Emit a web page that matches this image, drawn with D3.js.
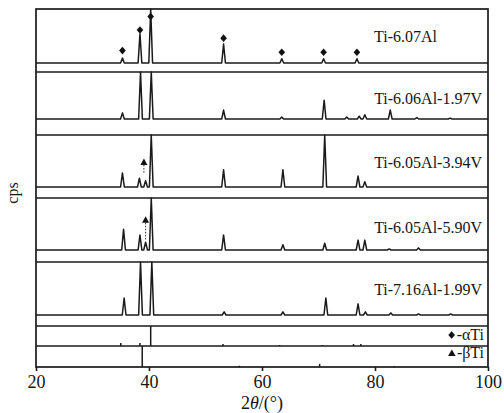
<!DOCTYPE html>
<html>
<head>
<meta charset="utf-8">
<script src="https://cdn.jsdelivr.net/npm/d3@7/dist/d3.min.js"></script>
<style>
  body { margin: 0; background: #fff; }
  text { font-family: "Liberation Serif", "DejaVu Serif", serif; fill: #151515; }
</style>
</head>
<body>
<div id="chart"></div>
<script>
// tick labels
const xTicks = [20, 40, 60, 80, 100];

// sample names (top to bottom)
const sampleNames = ["Ti-6.07Al", "Ti-6.06Al-1.97V", "Ti-6.05Al-3.94V", "Ti-6.05Al-5.90V", "Ti-7.16Al-1.99V"];

// peaks: [2theta, relative intensity, 100 = panel top]
const peaks1 = [[35.3, 9], [38.4, 54], [40.3, 105], [53.2, 35], [63.5, 8], [70.9, 8], [76.8, 8]];
const peaks2 = [[35.3, 13], [38.5, 105], [40.4, 105], [53.2, 19], [63.5, 4], [71.0, 40], [75.0, 4], [77.2, 6], [78.2, 9], [82.7, 19], [87.4, 3], [93.3, 2]];
const peaks3 = [[35.3, 27], [38.3, 17], [39.4, 12], [40.4, 105], [53.2, 33], [63.7, 33], [71.1, 105], [77.0, 21], [78.2, 10]];
const peaks4 = [[35.5, 40], [38.4, 29], [39.4, 15], [40.4, 105], [53.2, 29], [63.7, 10], [71.1, 13], [77.0, 19], [78.2, 19], [82.5, 2], [87.7, 4]];
const peaks5 = [[35.6, 32], [38.5, 105], [40.5, 105], [53.3, 6], [63.7, 6], [71.3, 32], [77.0, 21], [78.3, 6], [82.8, 4], [87.7, 2], [93.4, 2]];

// reference sticks
const alphaTi = [[35.0, 15], [38.4, 15], [40.3, 100], [53.1, 10], [63.1, 5], [70.7, 5], [76.2, 10], [77.5, 10]];
const betaTi = [[38.8, 100], [56.0, 6], [70.2, 15], [83.4, 5]];

// phase markers: [2theta, level] (beta: [2theta, level, line end])
const alphaMarks1 = [[35.3, 23], [38.4, 61], [40.3, 86], [53.2, 46], [63.5, 20], [70.9, 20], [76.8, 20]];
const betaMarks3 = [[39.1, 48, 27]];
const betaMarks4 = [[39.4, 58, 19]];

const patterns = [peaks1, peaks2, peaks3, peaks4, peaks5];

const width = 504, height = 413;
const left = 36, right = 488;
const edges = [9, 72, 135, 198, 262, 326, 346, 367];
const baseGap = [9, 16, 11, 12, 11];

const svg = d3.select("#chart").append("svg")
  .attr("width", width)
  .attr("height", height);

const x = d3.scaleLinear().domain([20, 100]).range([left, right]);

const halfW = 0.33;
const line = d3.line();

patterns.forEach((peaks, i) => {
  const top = edges[i];
  const base = edges[i + 1] - baseGap[i];
  const y = d3.scaleLinear().domain([0, 100]).range([base, top]).clamp(true);

  const pts = [[20, 0]];
  peaks.forEach(p => {
    pts.push([p[0] - halfW, 0], [p[0], p[1]], [p[0] + halfW, 0]);
  });
  pts.push([100, 0]);

  svg.append("path")
    .attr("d", line(pts.map(d => [x(d[0]), y(d[1])])))
    .attr("fill", "none")
    .attr("stroke", "#1a1a1a")
    .attr("stroke-width", 1.5)
    .attr("stroke-linejoin", "round");

  svg.append("text")
    .attr("x", i === 0 ? 374 : 482)
    .attr("y", [42, 104, 168, 233, 295][i])
    .attr("text-anchor", i === 0 ? "start" : "end")
    .attr("font-size", 16)
    .text(sampleNames[i]);

  if (i === 0) {
    svg.selectAll(".dia").data(alphaMarks1).enter().append("path")
      .attr("transform", d => `translate(${x(d[0])},${y(d[1])})`)
      .attr("d", "M0,-3.8L3.3,0L0,3.8L-3.3,0Z")
      .attr("fill", "#111");
  }
  const bm = i === 2 ? betaMarks3 : i === 3 ? betaMarks4 : null;
  if (bm) {
    bm.forEach(d => {
      svg.append("line")
        .attr("x1", x(d[0])).attr("x2", x(d[0]))
        .attr("y1", y(d[1]) + 3).attr("y2", y(d[2]))
        .attr("stroke", "#333")
        .attr("stroke-width", 1)
        .attr("stroke-dasharray", "1.5,1.5");
      svg.append("path")
        .attr("transform", `translate(${x(d[0])},${y(d[1])})`)
        .attr("d", "M0,-3.5L3.5,3L-3.5,3Z")
        .attr("fill", "#111");
    });
  }
});

// reference patterns
[alphaTi, betaTi].forEach((sticks, j) => {
  const top = edges[5 + j], base = edges[6 + j];
  const y = d3.scaleLinear().domain([0, 100]).range([base, top]);
  svg.selectAll(".stick" + j).data(sticks).enter().append("line")
    .attr("x1", d => x(d[0])).attr("x2", d => x(d[0]))
    .attr("y1", y(0)).attr("y2", d => y(d[1]))
    .attr("stroke", "#1a1a1a")
    .attr("stroke-width", 1.5);
});

// legend
const legY = [340, 358];
const legText = ["-αTi", "-βTi"];
legText.forEach((t, j) => {
  const tx = svg.append("text")
    .attr("x", 484)
    .attr("y", legY[j])
    .attr("text-anchor", "end")
    .attr("font-size", 16)
    .text(t);
  const w = tx.node().getComputedTextLength();
  svg.append("path")
    .attr("transform", `translate(${484 - w - 5},${legY[j] - 5})`)
    .attr("d", j === 0 ? "M0,-3.8L3.3,0L0,3.8L-3.3,0Z" : "M0,-3.5L3.8,3L-3.8,3Z")
    .attr("fill", "#111");
});

// panel separators
edges.slice(1, -1).forEach(e => {
  svg.append("line")
    .attr("x1", left).attr("x2", right)
    .attr("y1", e).attr("y2", e)
    .attr("stroke", "#1a1a1a")
    .attr("stroke-width", 1.6);
});

// frame
svg.append("rect")
  .attr("x", left).attr("y", edges[0])
  .attr("width", right - left).attr("height", edges[edges.length - 1] - edges[0])
  .attr("fill", "none")
  .attr("stroke", "#1a1a1a")
  .attr("stroke-width", 1.7);

// x axis
const xAxis = svg.append("g")
  .attr("transform", `translate(0,${edges[edges.length - 1]})`)
  .call(d3.axisBottom(x).tickValues(xTicks).tickSize(4).tickPadding(4));
xAxis.select(".domain").remove();
xAxis.selectAll("line").attr("stroke", "#1a1a1a").attr("stroke-width", 1.6);
xAxis.selectAll("text")
  .attr("font-size", 18)
  .attr("font-family", "Liberation Serif, serif")
  .attr("fill", "#151515");

// axis titles
const xt = svg.append("text")
  .attr("x", 262)
  .attr("y", 409)
  .attr("text-anchor", "middle")
  .attr("font-size", 18);
xt.append("tspan").text("2");
xt.append("tspan").attr("font-style", "italic").text("θ");
xt.append("tspan").text("/(°)");

svg.append("text")
  .attr("transform", "translate(18,193) rotate(-90)")
  .attr("text-anchor", "middle")
  .attr("font-size", 16)
  .text("cps");
</script>
</body>
</html>
